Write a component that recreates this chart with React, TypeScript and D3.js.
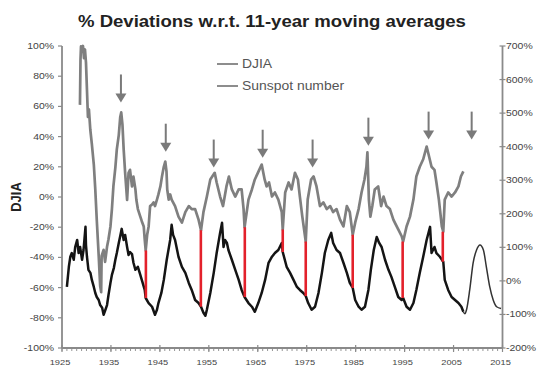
import React from "react";
import * as d3 from "d3";

const titleText = "% Deviations w.r.t. 11-year moving averages";
const yLeftLabel = "DJIA";
const seriesNames = ["DJIA", "Sunspot number"];

const djiaYears = [1928.67,1928.78,1928.88,1929.08,1929.29,1929.49,1929.69,1929.9,1930.1,1930.3,1930.5,1930.78,1931.1,1931.5,1931.8,1932.1,1932.5,1932.8,1933.0,1933.1,1933.5,1933.8,1934.2,1934.5,1934.9,1935.2,1935.5,1935.9,1936.2,1936.6,1936.9,1937.1,1937.35,1937.6,1937.9,1938.3,1938.6,1938.9,1939.3,1939.6,1940.0,1940.2,1940.5,1941.0,1941.3,1941.7,1941.9,1942.1,1942.4,1942.7,1943.0,1943.4,1943.7,1944.0,1944.4,1944.7,1945.1,1945.4,1945.8,1946.1,1946.35,1946.5,1946.8,1947.1,1947.4,1948.1,1948.8,1949.5,1950.2,1950.9,1951.5,1952.2,1952.9,1953.4,1953.9,1954.6,1955.3,1956.0,1956.2,1956.6,1957.3,1957.9,1958.6,1959.1,1959.7,1960.4,1961.1,1961.7,1962.1,1962.3,1963.1,1963.8,1964.4,1965.3,1965.8,1966.4,1966.8,1967.3,1967.9,1968.5,1969.2,1969.9,1970.1,1970.6,1971.3,1971.9,1972.6,1973.2,1973.6,1974.1,1974.8,1975.2,1975.9,1976.4,1977.0,1977.7,1978.4,1979.1,1979.8,1980.4,1981.1,1981.8,1982.5,1983.2,1983.8,1984.4,1984.9,1985.6,1986.2,1986.8,1987.2,1987.4,1987.7,1988.0,1988.4,1988.9,1989.6,1990.2,1990.7,1991.3,1992.0,1992.7,1993.0,1993.7,1994.4,1994.7,1995.4,1996.1,1996.8,1997.4,1998.1,1998.8,1999.5,1999.8,2000.5,2001.1,2001.5,2002.0,2002.6,2002.9,2003.2,2003.9,2004.6,2005.3,2006.0,2006.5,2007.0];
const djiaValues = [61,91,99.7,97.7,100,92,97.7,89,71,53,58,44.7,35,21.5,5,-15,-39,-59,-63,-39,-35,-43,-33,-28,-19.5,-8,7,19.5,31.5,41,53,56,48,31.5,16,-2,16,18,7,13.5,5,-2,-8,-13,-16,-19.5,-28,-35.4,-25,-19.5,-6,-5,-3.6,-6,-1.7,1.7,7,13,20,23.5,17,5,-1.7,1.7,-1.7,-6,-13,-17,-10,-6,-8,-8,-15,-22,-10,0.3,11.6,15,16,9.6,0.3,-6,7,13.5,5,0.3,5,5,-8,-20,-1.7,5,11.6,18,21.5,11.6,7,9.6,0.3,3,-1.7,-10,-21.5,3,9.6,5,16,11.6,0.3,-13,-29.5,-1.7,11.6,13.6,7,-6,-3.6,-8,-6,-10,-8,-15,-19.5,-6,-10,-25,-17,-8,3,11.6,20,29.5,-1.7,-13,-6,5,7,-6,0.3,-6,-8,-15,-17,-21.5,-26,-29.5,-19.5,-13,-1.7,13.6,20,25,33.4,29.5,20,18,9.6,-1.7,-19.5,-23,-1.7,3,0.3,3,7,13.6,17];

const sunYears = [1926.0,1926.4,1926.7,1927.0,1927.4,1927.7,1928.1,1928.4,1928.7,1929.1,1929.4,1929.8,1929.9,1930.1,1930.4,1930.8,1931.1,1931.5,1931.8,1932.1,1932.5,1932.8,1933.2,1933.5,1933.8,1934.2,1934.5,1934.9,1935.2,1935.6,1935.9,1936.2,1936.6,1936.9,1937.2,1937.6,1937.9,1938.3,1938.6,1938.9,1939.3,1939.6,1940.0,1940.5,1941.0,1941.3,1941.9,1942.1,1942.7,1943.4,1944.0,1944.4,1944.7,1945.3,1945.8,1946.4,1947.1,1947.4,1947.7,1948.1,1948.8,1949.5,1950.2,1950.9,1951.5,1952.2,1952.9,1953.4,1953.9,1954.3,1954.6,1955.3,1956.0,1956.6,1957.3,1957.7,1958.0,1958.3,1958.7,1959.0,1959.7,1960.4,1961.1,1961.7,1962.3,1963.1,1963.8,1964.4,1965.1,1965.8,1966.5,1967.2,1967.9,1968.5,1969.2,1969.9,1970.1,1970.9,1971.6,1972.3,1973.0,1973.6,1974.3,1974.8,1975.3,1976.0,1976.7,1977.4,1978.1,1978.7,1979.4,1980.0,1980.4,1981.1,1981.8,1982.5,1983.2,1983.8,1984.4,1984.9,1985.6,1986.2,1986.9,1987.6,1988.1,1988.7,1989.3,1989.8,1990.3,1991.0,1991.7,1992.3,1993.0,1993.7,1994.4,1994.7,1995.4,1996.1,1996.8,1997.4,1998.1,1998.8,1999.5,2000.2,2000.5,2001.1,2001.5,2002.2,2002.9,2003.2,2003.9,2004.6,2005.3,2006.0,2006.6,2007.0];
const sunValues = [-18,42,72,83,63,101,122,83,101,63,92,161,107,72,33,24,3,-18,-36,-48,-57,-72,-80,-101,-89,-72,-42,-6,18,39,63,83,113,134,155,122,137,101,77,86,80,54,33,42,18,3,-27,-51,-66,-77,-101,-86,-66,-36,3,63,122,167,137,122,72,42,24,-6,-27,-57,-66,-77,-95,-104,-86,-36,24,83,143,173,101,122,113,92,63,33,3,-27,-48,-66,-77,-92,-66,-36,3,54,72,83,92,113,86,42,24,3,-18,-27,-36,-45,-66,-86,-77,-36,24,83,122,143,113,92,83,54,24,-6,-21,-57,-77,-86,-77,-27,33,92,131,113,101,63,33,12,-18,-48,-57,-51,-77,-86,-66,-27,24,72,122,161,83,101,83,72,57,3,-27,-48,-57,-66,-77,-92];

const forecastYears = [2007.0,2007.3,2007.65,2008.3,2009.0,2009.7,2010.4,2011.1,2011.7,2012.4,2013.1,2013.8,2014.7];
const forecastValues = [-92,-98,-86,-27,54,92,107,92,42,-18,-57,-77,-82];

const arrowYears = [1937.04,1946.2,1956.0,1966.0,1976.2,1987.6,1999.9,2008.7];
const arrowTips = [62.6,30,19.5,26,19.5,34,38,38];

const troughYears = [1942.14,1953.37,1962.35,1970.1,1974.8,1984.4,1994.6,2002.8];
const troughDjia = [-35.4,-22,-20,-21.5,-29.5,-25,-29.5,-23];
const troughSun = [-51,-77,-48,86,-45,-21,-51,57];

const leftTicks = [-100,-80,-60,-40,-20,0,20,40,60,80,100];
const rightTicks = [-200,-100,0,100,200,300,400,500,600,700];
const xLabelYears = [1925,1935,1945,1955,1965,1975,1985,1995,2005,2015];

const W = 537;
const H = 367;
const SX = 1.16;

function SText(props: { x: number; y: number; anchor?: string; size: number; weight?: string; fill?: string; children: React.ReactNode }) {
  const { x, y, anchor = "start", size, weight = "normal", fill = "#333", children } = props;
  return (
    <text
      transform={`translate(${x},${y}) scale(${SX},1)`}
      textAnchor={anchor}
      fontSize={size}
      fontWeight={weight}
      fill={fill}
      fontFamily="'Liberation Sans', Arial, sans-serif"
    >
      {children}
    </text>
  );
}

export default function App() {
  const x = d3.scaleLinear().domain([1925, 2015]).range([62, 502.5]);
  const yL = d3.scaleLinear().domain([-100, 100]).range([348, 46]);
  const yR = d3.scaleLinear().domain([-200, 700]).range([348, 46]);

  const djia = djiaYears.map((t, i) => [t, djiaValues[i]] as [number, number]);
  const sun = sunYears.map((t, i) => [t, sunValues[i]] as [number, number]);
  const fc = forecastYears.map((t, i) => [t, forecastValues[i]] as [number, number]);

  const lineL = d3.line<[number, number]>().x((d) => x(d[0])).y((d) => yL(d[1]));
  const lineR = d3.line<[number, number]>().x((d) => x(d[0])).y((d) => yR(d[1]));
  const lineFc = d3.line<[number, number]>().x((d) => x(d[0])).y((d) => yR(d[1])).curve(d3.curveMonotoneX);

  const minorYears = d3.range(1925, 2016, 1);
  const axisColor = "#8a8a8a";
  const [x0, x1] = x.range();
  const yBottom = yL(-100);
  const yTop = yL(100);

  const arrowColor = "#7a7a7a";
  const shaft = 19;
  const headH = 9;
  const headW = 5.5;

  return (
    <svg width={W} height={H} style={{ position: "absolute", left: 0, top: 0, background: "#fff" }}>
      <rect x={0} y={0} width={W} height={H} fill="#fff" />
      <SText x={78} y={27} size={16} weight="bold" fill="#222">{titleText}</SText>

      <text
        transform={`translate(21,197) scale(${SX},1) rotate(-90)`}
        textAnchor="middle"
        fontSize={13}
        fontWeight="bold"
        fill="#222"
        fontFamily="'Liberation Sans', Arial, sans-serif"
      >
        {yLeftLabel}
      </text>

      {/* left axis */}
      <line x1={x0} x2={x0} y1={yTop} y2={yBottom} stroke={axisColor} strokeWidth={1.8} />
      {leftTicks.map((t) => (
        <g key={"l" + t}>
          <line x1={x0 - 4} x2={x0} y1={yL(t)} y2={yL(t)} stroke={axisColor} strokeWidth={1.2} />
          <SText x={54} y={yL(t) + 3} anchor="end" size={9} fill="#444">{t + "%"}</SText>
        </g>
      ))}

      {/* right axis */}
      <line x1={x1} x2={x1} y1={yTop} y2={yBottom} stroke={axisColor} strokeWidth={1.8} />
      {rightTicks.map((t) => (
        <g key={"r" + t}>
          <line x1={x1 - 3} x2={x1 + 3} y1={yR(t)} y2={yR(t)} stroke={axisColor} strokeWidth={1.2} />
          <SText x={506} y={yR(t) + 3} anchor="start" size={9} fill="#444">{t + "%"}</SText>
        </g>
      ))}

      {/* bottom axis */}
      <line x1={x0} x2={x1} y1={yBottom} y2={yBottom} stroke={axisColor} strokeWidth={1.8} />
      {minorYears.map((t) => (
        <line key={"m" + t} x1={x(t)} x2={x(t)} y1={yBottom} y2={yBottom + 3} stroke={axisColor} strokeWidth={0.9} />
      ))}
      {xLabelYears.map((t) => (
        <g key={"x" + t}>
          <line x1={x(t)} x2={x(t)} y1={yBottom - 3} y2={yBottom + 4} stroke={axisColor} strokeWidth={1.2} />
          <SText x={x(t) - 2} y={365} anchor="middle" size={8} fill="#444">{String(t)}</SText>
        </g>
      ))}

      {/* series */}
      <path d={lineL(djia) || ""} fill="none" stroke="#7f7f7f" strokeWidth={2.7} strokeLinejoin="round" />
      <path d={lineR(sun) || ""} fill="none" stroke="#141414" strokeWidth={2.5} strokeLinejoin="round" />
      <path d={lineFc(fc) || ""} fill="none" stroke="#333" strokeWidth={1.5} />

      {/* troughs */}
      {troughYears.map((t, i) => (
        <line key={"t" + i} x1={x(t)} x2={x(t)} y1={yL(troughDjia[i])} y2={yR(troughSun[i])} stroke="#e3212b" strokeWidth={2.6} />
      ))}

      {/* arrows */}
      {arrowYears.map((t, i) => {
        const ax = x(t);
        const tip = yL(arrowTips[i]);
        return (
          <g key={"a" + i} fill={arrowColor} stroke="none">
            <rect x={ax - 1} y={tip - headH - shaft} width={2} height={shaft + 1} />
            <path d={`M${ax - headW},${tip - headH} L${ax + headW},${tip - headH} L${ax},${tip} Z`} />
          </g>
        );
      })}

      {/* legend */}
      <line x1={217} x2={238} y1={64} y2={64} stroke="#808080" strokeWidth={1.8} />
      <SText x={242} y={68} size={12} fill="#555">{seriesNames[0]}</SText>
      <line x1={217} x2={238} y1={86} y2={86} stroke="#808080" strokeWidth={1.8} />
      <SText x={242} y={90} size={12} fill="#555">{seriesNames[1]}</SText>
    </svg>
  );
}
